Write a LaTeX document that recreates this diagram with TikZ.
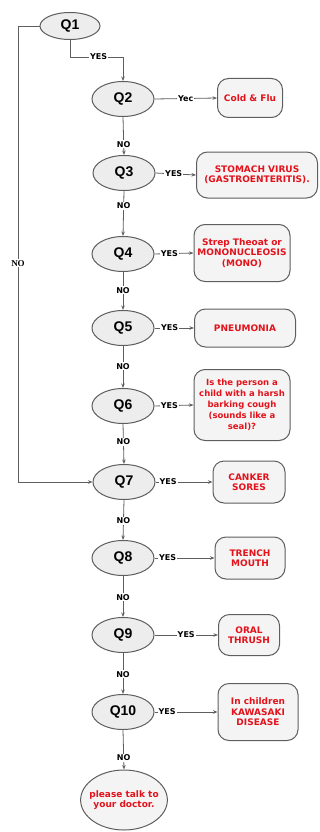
\documentclass[tikz,border=0pt]{standalone}
\usepackage{fontspec}
\setmainfont{Liberation Sans}
\newfontfamily\labelfont{DejaVu Sans}
\newfontfamily\serifno{Liberation Serif}
\usetikzlibrary{arrows.meta,shapes.geometric}
\definecolor{edgegray}{HTML}{5E5E5E}
\definecolor{fillgray}{HTML}{EDEDED}
\definecolor{boxgray}{HTML}{F4F4F4}
\definecolor{textred}{HTML}{E3121B}
\tikzset{
  quest/.style={ellipse,draw=edgegray,fill=fillgray,line width=1pt,minimum width=62pt,minimum height=35pt,inner sep=0pt,font=\fontsize{14}{14}\selectfont\bfseries},
  answer/.style={rectangle,rounded corners=11pt,draw=edgegray,fill=boxgray,line width=1pt,align=center,text=textred,inner sep=0pt,font=\labelfont\fontsize{9}{10.5}\selectfont\bfseries},
  link/.style={draw=edgegray,line width=0.8pt,-{Stealth[length=4.5pt,width=3.5pt]}},
  lbl/.style={fill=white,inner sep=1pt,font=\labelfont\fontsize{8}{8}\selectfont\bfseries}
}
\begin{document}
\begin{tikzpicture}[x=1pt,y=-1pt]
        \useasboundingbox (0,0) rectangle (320,832);
        \node [quest,minimum width=60pt,minimum height=27pt] (Q1) at (70,26) {Q1};
        \node [quest] (Q2) at (123,99) {Q2};
        \node [quest] (Q3) at (124,173) {Q3};
        \node [quest] (Q4) at (123,254) {Q4};
        \node [quest] (Q5) at (123,328) {Q5};
        \node [quest] (Q6) at (123,406) {Q6};
        \node [quest] (Q7) at (124,482) {Q7};
        \node [quest] (Q8) at (123,558) {Q8};
        \node [quest] (Q9) at (123,635) {Q9};
        \node [quest] (Q10) at (123,712) {Q10};
        \node [answer,minimum width=65pt,minimum height=39pt] (cold) at (250,98) {Cold \& Flu};
        \node [answer,minimum width=121pt,minimum height=46pt] (stomach) at (257,175) {STOMACH VIRUS\\(GASTROENTERITIS).};
        \node [answer,minimum width=96pt,minimum height=57pt] (strep) at (242,253) {Strep Theoat or\\MONONUCLEOSIS\\(MONO)};
        \node [answer,minimum width=101pt,minimum height=38pt] (pneumonia) at (245,328) {PNEUMONIA};
        \node [answer,minimum width=96pt,minimum height=71pt,font=\labelfont\fontsize{8.5}{11}\selectfont\bfseries] (seal) at (242,405) {Is the person a\\child with a harsh\\barking cough\\(sounds like a\\seal)?};
        \node [answer,minimum width=72pt,minimum height=42pt] (canker) at (249,482) {CANKER\\SORES};
        \node [answer,minimum width=70pt,minimum height=42pt] (trench) at (250,558) {TRENCH\\MOUTH};
        \node [answer,minimum width=61pt,minimum height=41pt] (thrush) at (249,635) {ORAL\\THRUSH};
        \node [answer,minimum width=80pt,minimum height=57pt] (kawasaki) at (258,712) {In children\\KAWASAKI\\DISEASE};
        \node [answer,ellipse,inner xsep=-4pt,minimum width=79pt,minimum height=60pt] (doctor) at (124,800) {please talk to\\your doctor.};
        \coordinate (yesbend) at (70,57);
        \coordinate (nobend) at (18,26);
        \draw [link] (Q1.south) -- (yesbend) -| node [lbl,pos=0.27] {YES} (Q2.north);
        \draw [link] (Q1.west) -- (nobend) |- node [pos=0.26,fill=white,inner sep=1pt,font=\serifno\fontsize{9}{9}\selectfont\bfseries] {NO} (Q7.west);
        \draw [link] (Q2.east) -- node [lbl,pos=0.5] {Yec} (cold.west);
        \draw [link] (Q3.east) -- node [lbl,pos=0.45] {YES} (stomach.west);
        \draw [link] (Q4.east) -- node [lbl,pos=0.38] {YES} (strep.west);
        \draw [link] (Q5.east) -- node [lbl,pos=0.38] {YES} (pneumonia.west);
        \draw [link] (Q6.east) -- node [lbl,pos=0.38] {YES} (seal.west);
        \draw [link] (Q7.east) -- node [lbl,pos=0.22] {YES} (canker.west);
        \draw [link] (Q8.east) -- node [lbl,pos=0.22] {YES} (trench.west);
        \draw [link] (Q9.east) -- node [lbl,pos=0.5] {YES} (thrush.west);
        \draw [link] (Q10.east) -- node [lbl,pos=0.2] {YES} (kawasaki.west);
        \draw [link] (Q2.south) -- node [lbl,pos=0.72] {NO} (Q3.north);
        \draw [link] (Q3.south) -- node [lbl,pos=0.33] {NO} (Q4.north);
        \draw [link] (Q4.south) -- node [lbl,pos=0.48] {NO} (Q5.north);
        \draw [link] (Q5.south) -- node [lbl,pos=0.48] {NO} (Q6.north);
        \draw [link] (Q6.south) -- node [lbl,pos=0.45] {NO} (Q7.north);
        \draw [link] (Q7.south) -- node [lbl,pos=0.52] {NO} (Q8.north);
        \draw [link] (Q8.south) -- node [lbl,pos=0.52] {NO} (Q9.north);
        \draw [link] (Q9.south) -- node [lbl,pos=0.52] {NO} (Q10.north);
        \draw [link] (Q10.south) -- node [lbl,pos=0.7] {NO} (doctor.north);
\end{tikzpicture}
\end{document}
